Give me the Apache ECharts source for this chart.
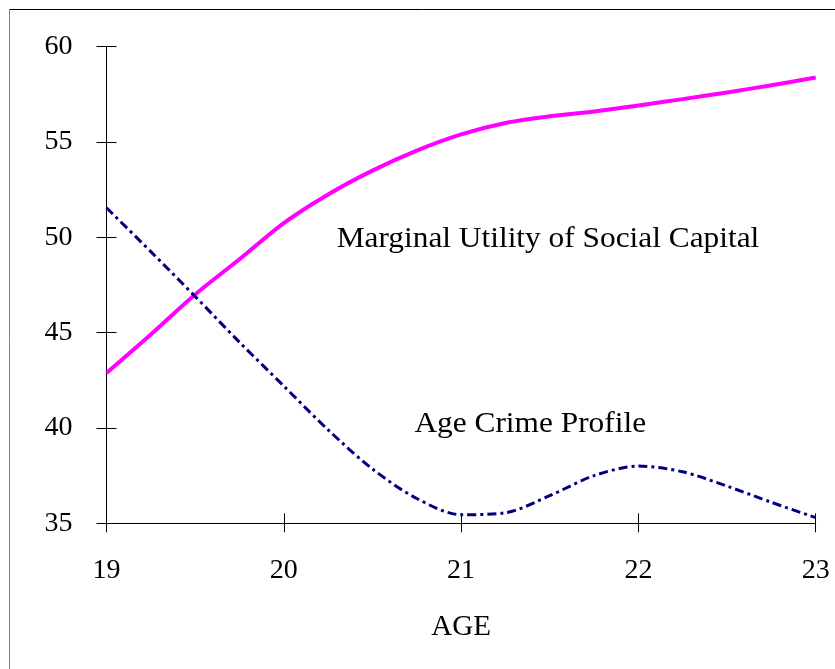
<!DOCTYPE html>
<html>
<head>
<meta charset="utf-8">
<script src="https://cdn.jsdelivr.net/npm/echarts@6/dist/echarts.min.js"></script>
<style>
html,body{margin:0;padding:0;background:#fff;}
#chart{width:835px;height:669px;}
</style>
</head>
<body>
<div id="chart"></div>
<script>
const ages = [19, 19.25, 19.5, 19.75, 20, 20.25, 20.5, 20.75, 21, 21.25, 21.5, 21.75, 22, 22.25, 22.5, 22.75, 23];
const marginalUtility = [42.88, 44.9, 47.0, 48.85, 50.75, 52.25, 53.5, 54.55, 55.4, 56.0, 56.35, 56.6, 56.92, 57.25, 57.6, 57.98, 58.38];
const ageCrime = [51.55, 49.25, 46.9, 44.5, 42.2, 39.9, 37.85, 36.3, 35.45, 35.55, 36.45, 37.5, 38.0, 37.7, 36.95, 36.1, 35.3];
const xTicks = [19, 20, 21, 22, 23];
const yTicks = [35, 40, 45, 50, 55, 60];
const labelMarginal = 'Marginal Utility of Social Capital';
const labelCrime = 'Age Crime Profile';
const xName = 'AGE';

const FONT = '"Liberation Serif", "Times New Roman", serif';
const chart = echarts.init(document.getElementById('chart'), null, {renderer: 'canvas'});

function pairs(xs, ys) { return xs.map((x, i) => [x, ys[i]]); }

const axisCommonX = {
  type: 'value', min: xTicks[0], max: xTicks[xTicks.length - 1], interval: 1,
  splitLine: {show: false}, position: 'bottom'
};
const axisCommonY = {
  type: 'value', min: yTicks[0], max: yTicks[yTicks.length - 1], interval: 5,
  splitLine: {show: false}, position: 'left'
};

const option = {
  backgroundColor: '#ffffff',
  animation: false,
  grid: {left: 106.5, right: 19.3, top: 46.7, bottom: 145.7, containLabel: false},
  xAxis: [
    Object.assign({}, axisCommonX, {
      axisLine: {show: true, lineStyle: {color: '#000', width: 1}},
      axisTick: {show: true, inside: false, length: 9, lineStyle: {color: '#000', width: 1}},
      axisLabel: {show: true, color: '#000', fontSize: 28, fontFamily: FONT, margin: 33},
      name: xName, nameLocation: 'middle', nameGap: 90,
      nameTextStyle: {color: '#000', fontSize: 29, fontFamily: FONT}
    }),
    Object.assign({}, axisCommonX, {
      axisLine: {show: false},
      axisTick: {show: true, inside: true, length: 10, lineStyle: {color: '#000', width: 1}},
      axisLabel: {show: false}
    })
  ],
  yAxis: [
    Object.assign({}, axisCommonY, {
      axisLine: {show: true, lineStyle: {color: '#000', width: 1}},
      axisTick: {show: true, inside: false, length: 10, lineStyle: {color: '#000', width: 1}},
      axisLabel: {show: true, color: '#000', fontSize: 28, fontFamily: FONT, margin: 34}
    }),
    Object.assign({}, axisCommonY, {
      axisLine: {show: false},
      axisTick: {show: true, inside: true, length: 10, lineStyle: {color: '#000', width: 1}},
      axisLabel: {show: false}
    })
  ],
  series: [
    {
      name: labelMarginal, type: 'line', xAxisIndex: 0, yAxisIndex: 0,
      data: pairs(ages, marginalUtility), smooth: 0.3, symbol: 'none',
      lineStyle: {color: '#ff00ff', width: 4}
    },
    {
      name: labelCrime, type: 'line', xAxisIndex: 0, yAxisIndex: 0,
      data: pairs(ages, ageCrime), smooth: 0.3, symbol: 'none',
      lineStyle: {color: '#000080', width: 3, type: [9, 4, 3, 4], cap: 'butt'}
    }
  ]
};
chart.setOption(option);

const p1 = chart.convertToPixel({xAxisIndex: 0, yAxisIndex: 0}, [21.49, 49.9]);
const p2 = chart.convertToPixel({xAxisIndex: 0, yAxisIndex: 0}, [21.39, 40.2]);
chart.setOption({
  graphic: [
    {type: 'line', shape: {x1: 9.5, y1: 9.5, x2: 835, y2: 9.5}, style: {stroke: '#000', lineWidth: 1}},
    {type: 'line', shape: {x1: 9.5, y1: 9.5, x2: 9.5, y2: 669}, style: {stroke: '#808080', lineWidth: 1}},
    {type: 'text', x: p1[0], y: p1[1], scaleX: 1.1,
      style: {text: labelMarginal, fill: '#000', font: '28.5px ' + FONT, align: 'center', verticalAlign: 'middle'}},
    {type: 'text', x: p2[0], y: p2[1], scaleX: 1.1,
      style: {text: labelCrime, fill: '#000', font: '28.5px ' + FONT, align: 'center', verticalAlign: 'middle'}}
  ]
});
</script>
</body>
</html>
